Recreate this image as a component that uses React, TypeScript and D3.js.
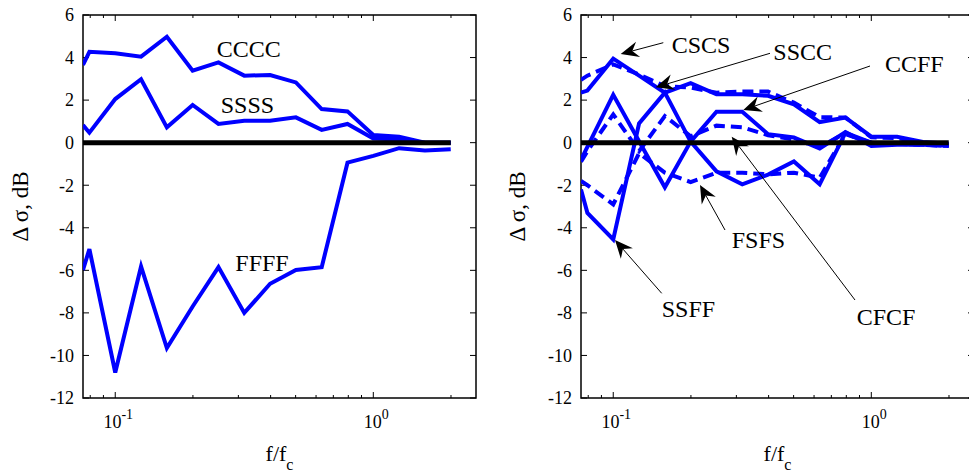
import React from 'react';
import * as d3 from 'd3';

// ---------- data ----------
const freq = [0.075, 0.0794, 0.1, 0.1259, 0.1585, 0.1995, 0.2512, 0.3162, 0.3981, 0.5012, 0.631, 0.7943, 1.0, 1.2589, 1.5849, 1.9953];

const cccc = [3.65, 4.27, 4.2, 4.04, 4.98, 3.38, 3.77, 3.15, 3.18, 2.83, 1.58, 1.47, 0.36, 0.28, 0.0, 0.0];
const ssss = [0.83, 0.47, 2.05, 2.98, 0.72, 1.77, 0.88, 1.03, 1.03, 1.19, 0.6, 0.88, 0.2, 0.15, 0.0, 0.0];
const ffff = [-5.98, -5.0, -10.8, -5.82, -9.65, -7.7, -5.85, -8.0, -6.63, -5.98, -5.85, -0.94, -0.62, -0.26, -0.37, -0.31];

const cscs = [2.35, 2.45, 3.95, 3.15, 2.35, 2.8, 2.27, 2.27, 2.2, 1.8, 0.97, 1.18, 0.28, 0.28, 0.03, -0.05];
const sscc = [2.95, 3.15, 3.68, 3.2, 2.66, 2.59, 2.35, 2.4, 2.4, 1.88, 1.2, 1.18, 0.25, 0.22, 0.0, -0.1];
const ccff = [-0.8, -0.2, 2.25, 0.07, -2.1, 0.05, 1.45, 1.45, 0.4, 0.24, -0.27, 0.5, -0.15, -0.1, -0.1, -0.15];
const ssff = [-2.2, -3.3, -4.55, 0.9, 2.35, 0.05, -1.35, -1.96, -1.5, -0.88, -1.95, 0.47, 0.0, -0.05, -0.05, -0.1];
const cfcf = [-0.9, -0.4, 1.33, -0.4, 1.25, 0.3, 0.8, 0.72, 0.35, 0.15, -0.2, 0.45, -0.1, -0.05, -0.1, -0.15];
const fsfs = [-1.8, -2.0, -2.9, -0.5, -1.41, -1.85, -1.41, -1.41, -1.49, -1.41, -1.65, 0.4, 0.0, -0.05, -0.1, -0.15];

const zeroLine = freq.map(() => 0);

const yTicks = [6, 4, 2, 0, -2, -4, -6, -8, -10, -12];
const xMajor = [0.1, 1];
const xMinor = [0.08, 0.09, 0.2, 0.3, 0.4, 0.5, 0.6, 0.7, 0.8, 0.9, 2];
const xDomain = [0.075, 2.5];
const yDomain = [-12, 6];

// ---------- layout ----------
const W = 969;
const H = 473;
const TOP = 15;
const BOTTOM = 398;
const PW = 393;
const BLUE = '#0000ff';
const FONT = "'Liberation Serif', Tinos, 'Times New Roman', Times, 'DejaVu Serif', serif";

type Series = { values: number[]; dashed?: boolean };
type Note = { label: string; tx: number; ty: number; arrow?: [number, number, number, number] };

const leftSeries: Series[] = [{ values: cccc }, { values: ssss }, { values: ffff }];
const rightSeries: Series[] = [
  { values: cscs },
  { values: sscc, dashed: true },
  { values: ccff },
  { values: ssff },
  { values: cfcf, dashed: true },
  { values: fsfs, dashed: true },
];

const leftNotes: Note[] = [
  { label: 'CCCC', tx: 133.7, ty: 42.3 },
  { label: 'SSSS', tx: 137.7, ty: 98.3 },
  { label: 'FFFF', tx: 152.3, ty: 255.7 },
];
const rightNotes: Note[] = [
  { label: 'CSCS', tx: 90.7, ty: 38.3, arrow: [82.3, 27.7, 39.7, 39] },
  { label: 'SSCC', tx: 192.3, ty: 45, arrow: [189, 38.3, 74.7, 72.3] },
  { label: 'CCFF', tx: 304, ty: 56.7, arrow: [289, 51, 162.3, 95] },
  { label: 'FSFS', tx: 150.7, ty: 233, arrow: [144, 215, 119, 170] },
  { label: 'CFCF', tx: 275.7, ty: 310, arrow: [274, 285, 150.7, 121.7] },
  { label: 'SSFF', tx: 80.7, ty: 302.3, arrow: [80.7, 278.3, 34, 225] },
];

function Arrow({ a }: { a: [number, number, number, number] }) {
  const [x1, y1, x2, y2] = a;
  const ang = Math.atan2(y2 - y1, x2 - x1);
  const L = 18;
  const hw = 8;
  const notch = 6;
  const ux = Math.cos(ang);
  const uy = Math.sin(ang);
  const px = -uy;
  const py = ux;
  const bx = x2 - ux * L;
  const by = y2 - uy * L;
  const nx = x2 - ux * (L - notch);
  const ny = y2 - uy * (L - notch);
  const head = `M${x2},${y2} L${bx + px * hw},${by + py * hw} L${nx},${ny} L${bx - px * hw},${by - py * hw} Z`;
  return (
    <g>
      <line x1={x1} y1={y1} x2={nx} y2={ny} stroke="#000" strokeWidth={1} />
      <path d={head} fill="#000" />
    </g>
  );
}

function Panel({ x0, series, notes, ylabelX }: { x0: number; series: Series[]; notes: Note[]; ylabelX: number }) {
  const x = d3.scaleLog().domain(xDomain).range([0, PW]);
  const y = d3.scaleLinear().domain(yDomain).range([BOTTOM - TOP, 0]);
  const ph = BOTTOM - TOP;
  const line = d3
    .line<number>()
    .x((_, i) => x(freq[i]))
    .y((d) => y(d));
  const clipId = `clip${x0}`;
  return (
    <g>
      <text
        transform={`translate(${ylabelX},${(TOP + BOTTOM) / 2}) rotate(-90)`}
        textAnchor="middle"
        fontSize={23}
      >
        Δ σ, dB
      </text>
      <text x={x0 + PW / 2} y={461} textAnchor="middle" fontSize={22}>
        f/f
        <tspan fontSize={16} dy={9}>c</tspan>
      </text>
      <g transform={`translate(${x0},${TOP})`}>
        <defs>
          <clipPath id={clipId}>
            <rect x={0} y={0} width={PW} height={ph} />
          </clipPath>
        </defs>
        <rect x={0} y={0} width={PW} height={ph} fill="none" stroke="#000" strokeWidth={1.5} />
        {yTicks.map((t) => (
          <g key={t}>
            <line x1={0} x2={6} y1={y(t)} y2={y(t)} stroke="#000" strokeWidth={1} />
            <line x1={PW - 6} x2={PW} y1={y(t)} y2={y(t)} stroke="#000" strokeWidth={1} />
            <text x={-9} y={y(t)} dy="0.35em" textAnchor="end" fontSize={18}>
              {t}
            </text>
          </g>
        ))}
        {xMajor.map((t) => (
          <g key={t}>
            <line x1={x(t)} x2={x(t)} y1={ph} y2={ph - 6} stroke="#000" strokeWidth={1} />
            <line x1={x(t)} x2={x(t)} y1={0} y2={6} stroke="#000" strokeWidth={1} />
            <text x={x(t) + 3} y={ph + 30} textAnchor="middle" fontSize={18}>
              10
              <tspan fontSize={14} dy={-9}>{Math.round(Math.log10(t))}</tspan>
            </text>
          </g>
        ))}
        {xMinor.map((t) => (
          <g key={t}>
            <line x1={x(t)} x2={x(t)} y1={ph} y2={ph - 3} stroke="#000" strokeWidth={1} />
            <line x1={x(t)} x2={x(t)} y1={0} y2={3} stroke="#000" strokeWidth={1} />
          </g>
        ))}
        <g clipPath={`url(#${clipId})`}>
          {series.map((s, i) => (
            <path
              key={i}
              d={line(s.values) || ''}
              fill="none"
              stroke={BLUE}
              strokeWidth={4}
              strokeDasharray={s.dashed ? '11,6' : undefined}
              strokeLinejoin="miter"
            />
          ))}
          <path d={line(zeroLine) || ''} fill="none" stroke="#000" strokeWidth={5} />
        </g>
        {notes.map((n) => (
          <g key={n.label}>
            {n.arrow && <Arrow a={n.arrow} />}
            <text x={n.tx} y={n.ty} fontSize={24}>
              {n.label}
            </text>
          </g>
        ))}
      </g>
    </g>
  );
}

export default function App() {
  return (
    <svg
      width={W}
      height={H}
      style={{ position: 'absolute', left: 0, top: 0, background: '#fff', fontFamily: FONT }}
    >
      <rect width={W} height={H} fill="#fff" />
      <Panel x0={83} series={leftSeries} notes={leftNotes} ylabelX={28} />
      <Panel x0={581} series={rightSeries} notes={rightNotes} ylabelX={525} />
    </svg>
  );
}
